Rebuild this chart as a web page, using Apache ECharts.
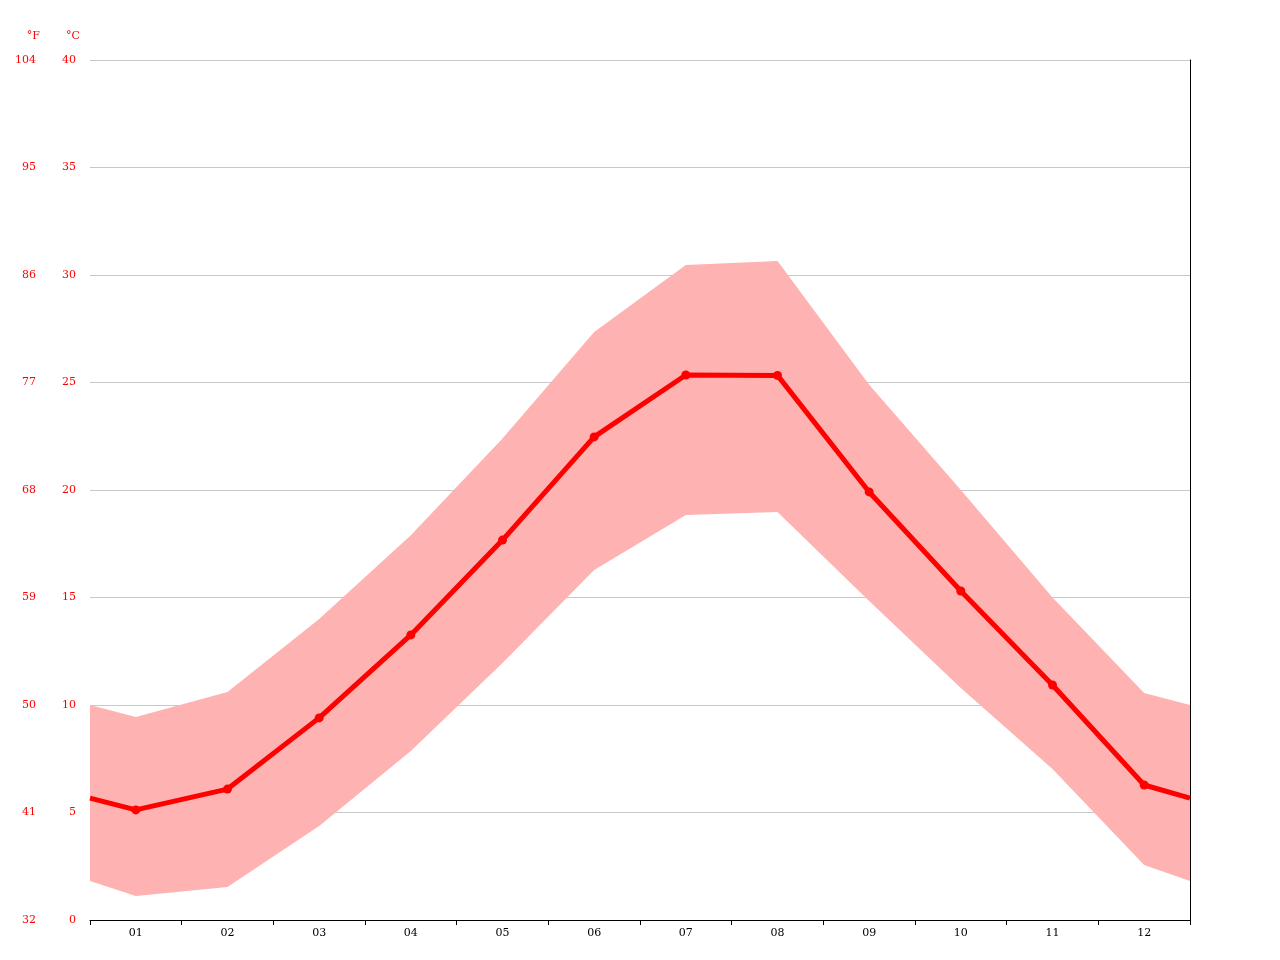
<!DOCTYPE html>
<html>
<head>
<meta charset="utf-8">
<script src="https://cdn.jsdelivr.net/npm/echarts@6/dist/echarts.min.js"></script>
<style>html,body{margin:0;padding:0;background:#fff}#chart{width:1280px;height:960px}</style>
</head>
<body>
<div id="chart"></div>
<script>
// month labels
const months = ['01', '02', '03', '04', '05', '06', '07', '08', '09', '10', '11', '12'];
// x positions: 0.5 and 12.5 are the chart edges
const xs = [0.5, 1, 2, 3, 4, 5, 6, 7, 8, 9, 10, 11, 12, 12.5];
// average temperature (°C)
const avgTemp = [5.67, 5.12, 6.09, 9.40, 13.26, 17.67, 22.47, 25.35, 25.33, 19.91, 15.30, 10.93, 6.28, 5.67];
// min / max band (°C)
const minTemp = [1.81, 1.12, 1.53, 4.37, 7.86, 11.95, 16.28, 18.84, 18.98, 14.84, 10.79, 7.02, 2.56, 1.81];
const maxTemp = [10.0, 9.44, 10.6, 14.0, 17.9, 22.4, 27.35, 30.47, 30.65, 24.9, 20.0, 15.0, 10.56, 10.0];

let myChart = echarts.init(document.getElementById('chart'));

const font = 'DejaVu Serif';
let bandPts = xs.map((x, i) => [x, minTemp[i], maxTemp[i]]);
let avgPts = xs.map((x, i) => {
    if (i === 0 || i === xs.length - 1) return { value: [x, avgTemp[i]], symbol: 'none' };
    return [x, avgTemp[i]];
});

let option = {
    animation: false,
    grid: { left: 90, right: 90, top: 60, bottom: 40 },
    xAxis: [
        {
            type: 'category',
            data: months,
            boundaryGap: true,
            axisLine: { lineStyle: { color: '#000' } },
            axisTick: { show: true, lineStyle: { color: '#000' } },
            axisLabel: { color: '#000', fontFamily: font, fontSize: 11 },
            splitLine: { show: false }
        },
        { type: 'value', min: 0.5, max: 12.5, show: false }
    ],
    yAxis: [
        {
            type: 'value', min: 0, max: 40, interval: 5,
            name: '°C', nameLocation: 'end', nameGap: 18,
            nameTextStyle: { color: '#f00', fontFamily: font, fontSize: 11, align: 'right', padding: [0, 10, 0, 0] },
            axisLine: { show: false }, axisTick: { show: false },
            axisLabel: { color: '#f00', fontFamily: font, fontSize: 11, margin: 14, align: 'right' },
            splitLine: { lineStyle: { color: '#c8c8c8' } }
        },
        {
            type: 'value', min: 0, max: 40, interval: 5, position: 'left', offset: 40,
            name: '°F', nameLocation: 'end', nameGap: 18,
            nameTextStyle: { color: '#f00', fontFamily: font, fontSize: 11, align: 'right', padding: [0, 10, 0, 0] },
            axisLine: { show: false }, axisTick: { show: false },
            axisLabel: { color: '#f00', fontFamily: font, fontSize: 11, margin: 14, align: 'right',
                formatter: v => Math.round(v * 9 / 5 + 32) },
            splitLine: { show: false }
        },
        {
            type: 'value', min: 0, max: 40, position: 'right',
            axisLine: { show: true, lineStyle: { color: '#000' } },
            axisTick: { show: false }, axisLabel: { show: false }, splitLine: { show: false }
        }
    ],
    series: [
        {
            // min-max band as one polygon
            type: 'custom', xAxisIndex: 1, data: bandPts,
            renderItem: function (params, api) {
                if (params.dataIndex !== 0) return null;
                let upper = bandPts.map(p => api.coord([p[0], p[2]]));
                let lower = bandPts.map(p => api.coord([p[0], p[1]])).reverse();
                return {
                    type: 'polygon',
                    shape: { points: upper.concat(lower) },
                    style: { fill: '#feb2b2' }
                };
            },
            z: 1
        },
        {
            type: 'line', xAxisIndex: 1, data: avgPts,
            symbol: 'circle', symbolSize: 9,
            showAllSymbol: true,
            itemStyle: { color: '#ff0000' },
            lineStyle: { color: '#ff0000', width: 5 },
            z: 5
        }
    ]
};
myChart.setOption(option);
</script>
</body>
</html>
